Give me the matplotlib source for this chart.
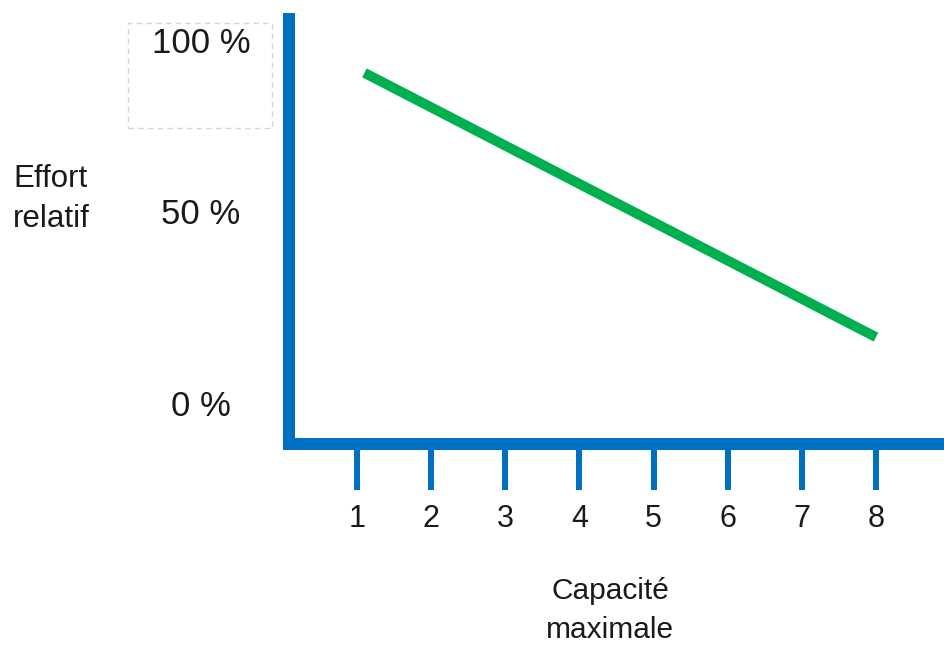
import matplotlib
matplotlib.use("Agg")
import matplotlib.pyplot as plt
from matplotlib.patches import Rectangle

# ---- data ----
x_ticks = [1, 2, 3, 4, 5, 6, 7, 8]
x_tick_labels = ["1", "2", "3", "4", "5", "6", "7", "8"]
y_labels = ["0 %", "50 %", "100 %"]
y_label_pos = [-0.5, 52.5, 99.5]
line_x = [1.1, 8.0]
line_y = [91.5, 18.7]
x_title = ["Capacité", "maximale"]
y_title = ["Effort", "relatif"]

BLUE = "#0070C0"
GREEN = "#00B050"
TXT = "#1a1a1a"
plt.rcParams['font.family'] = ['Liberation Sans', 'DejaVu Sans']

W, H = 945, 648
fig = plt.figure(figsize=(W / 100, H / 100), dpi=100)

# axes: left spine at x=289px, bottom spine at y=444px
left_px, bottom_px, right_px, top_px = 289, 444, 945, 19
ax = fig.add_axes([left_px / W, 1 - bottom_px / H,
                   (right_px - left_px) / W, (bottom_px - top_px) / H])

px_per_x = 74.14
ax.set_xlim(1 + (left_px - 357) / px_per_x, 1 + (right_px - 357) / px_per_x)
px_per_pct = 3.63
ax.set_ylim(-(bottom_px - 405) / px_per_pct, (405 - top_px) / px_per_pct)

for s in ["top", "right"]:
    ax.spines[s].set_visible(False)
for s in ["left", "bottom"]:
    ax.spines[s].set_color(BLUE)
    ax.spines[s].set_linewidth(12 * 0.72)
    ax.spines[s].set_capstyle("projecting")

ax.set_xticks(x_ticks)
ax.set_xticklabels(x_tick_labels)
ax.tick_params(axis="x", direction="out", length=46 * 0.72, width=6 * 0.72,
               color=BLUE, labelsize=22, labelcolor=TXT, pad=10)
ax.set_yticks([])

ax.plot(line_x, line_y, color=GREEN, lw=10 * 0.72, solid_capstyle="butt")

ytr = ax.get_yaxis_transform()
for lab, pos in zip(y_labels, y_label_pos):
    ax.text((201 - left_px) / (right_px - left_px), pos, lab, transform=ytr,
            ha="center", va="center", fontsize=25, color=TXT, clip_on=False)

# dashed box around the 100 % label
fig.patches.append(Rectangle((128 / W, 1 - 128 / H), 144 / W, 105 / H,
                             transform=fig.transFigure, fill=False,
                             edgecolor="#d6d6d6", lw=1, ls=(0, (4, 3))))

fig.text(13 / W, 1 - 187 / H, y_title[0], ha="left", va="baseline",
         fontsize=22.5, color=TXT)
fig.text(13 / W, 1 - 227 / H, y_title[1], ha="left", va="baseline",
         fontsize=22.5, color=TXT)
fig.text(610 / W, 1 - 599 / H, x_title[0], ha="center", va="baseline",
         fontsize=21.5, color=TXT)
fig.text(610 / W, 1 - 638 / H, x_title[1], ha="center", va="baseline",
         fontsize=21.5, color=TXT)

fig.savefig("out.png", dpi=100)
